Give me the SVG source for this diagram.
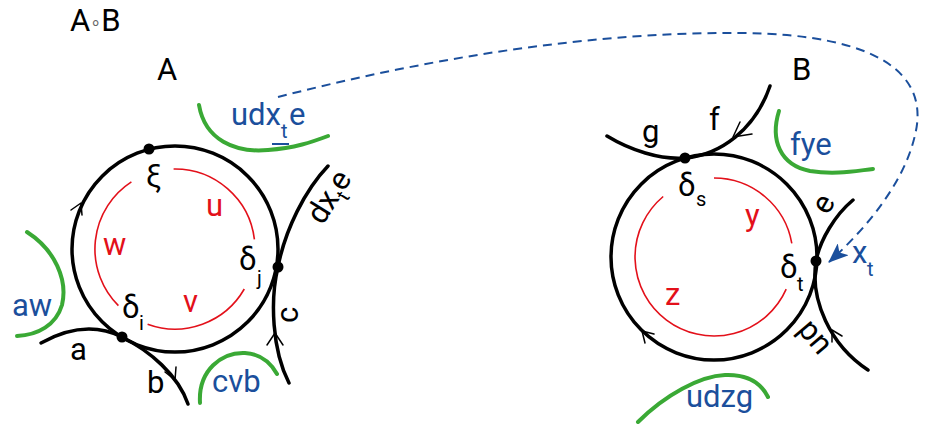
<svg xmlns="http://www.w3.org/2000/svg" width="932" height="424" viewBox="0 0 932 424">
<defs>
<style>
text{font-family:Roboto,"Open Sans","Liberation Sans",sans-serif;font-size:31px;}
.k{fill:#000;}
.r{fill:#e3101a;}
.bl{fill:#1b4f9c;}
.sub{font-size:20px;}
.ring{fill:none;stroke:#000;stroke-width:3.5;}
.cur{fill:none;stroke:#000;stroke-width:3.5;stroke-linecap:round;}
.red{fill:none;stroke:#e3101a;stroke-width:1.6;}
.grn{fill:none;stroke:#3aa935;stroke-width:4;stroke-linecap:round;}
.chev{fill:none;stroke:#000;stroke-width:1.5;stroke-linecap:round;stroke-linejoin:round;}
.dot{fill:#000;}
.dash{fill:none;stroke:#1b4f9c;stroke-width:2;stroke-dasharray:9 6;}
</style>
<marker id="ah" viewBox="0 0 20 16" refX="19" refY="8" markerWidth="20" markerHeight="16" markerUnits="userSpaceOnUse" orient="auto">
<path d="M0,0 L20,8 L0,16 L5,8 z" fill="#1b4f9c"/>
</marker>
</defs>

<text x="70" y="31" class="k">A<tspan font-size="18" fill="#666" dy="-3">∘</tspan><tspan dy="3">B</tspan></text>

<g id="nodeA">
<text x="157" y="80" class="k">A</text>
<circle class="ring" cx="175" cy="249" r="103"/>
<path class="chev" d="M71,210 L81,203 L82,215"/>
<path class="red" d="M173.6,169 A80,80 0 0 1 254.4,239.3"/>
<path class="red" d="M131.4,181.9 A80,80 0 0 0 118.4,305.6"/>
<path class="red" d="M147.6,324.2 A80,80 0 0 0 244.3,289"/>
<text x="206" y="216" class="r">u</text>
<text x="103" y="255" class="r">w</text>
<text x="183" y="312" class="r">v</text>
<circle class="dot" cx="149" cy="149" r="5.5"/>
<circle class="dot" cx="122" cy="337" r="5.5"/>
<circle class="dot" cx="278" cy="267" r="5.5"/>
<text x="146" y="186" class="k">ξ</text>
<text x="122" y="318" class="k">δ<tspan class="sub" x="139" y="330">i</tspan></text>
<text x="239" y="270" class="k">δ<tspan class="sub" x="257" y="285">j</tspan></text>
</g>

<g id="edgesA">
<path class="cur" d="M41,343 C68,328 96,324 122,337 C150,351 178,375 188,404"/>
<path class="chev" d="M176,367 L175,380 L165,372"/>
<text x="70" y="360" class="k">a</text>
<text x="147" y="393" class="k">b</text>
<path class="cur" d="M289,383 C272,350 270,300 278,267 C285,230 305,190 328,166"/>
<path class="chev" d="M267,345 L275,333 L283,345"/>
<text transform="translate(298,315) rotate(-90)" x="0" y="0" text-anchor="middle" class="k">c</text>
<text transform="translate(322.8,226) rotate(-58)" x="0" y="0" class="k">dx<tspan class="sub" dy="8">t</tspan><tspan dy="-8">e</tspan></text>
</g>

<g id="labelsA">
<path class="grn" d="M199,105 C205,140 235,153 268,150 C295,148 312,142 328,136"/>
<text x="231" y="125" class="bl">udx</text>
<text x="281" y="138" class="bl sub">t</text>
<line x1="272" y1="144" x2="289" y2="144" stroke="#1b4f9c" stroke-width="2"/>
<text x="289" y="125" class="bl">e</text>
<path class="grn" d="M27,232 C55,250 68,280 62,305 C56,325 38,335 17,336"/>
<text x="12" y="316" class="bl">aw</text>
<path class="grn" d="M200,403 C198,370 222,352 245,353 C262,354 272,365 277,374"/>
<text x="212" y="392" class="bl">cvb</text>
</g>

<g id="nodeB">
<text x="792" y="80" class="k">B</text>
<circle class="ring" cx="714" cy="257" r="103"/>
<path class="chev" d="M645,343 L642,331 L654,334"/>
<path class="red" d="M714,178 A79,79 0 0 1 791.8,243.3"/>
<path class="red" d="M663.2,196.5 A79,79 0 1 0 786.2,289.1"/>
<text x="745" y="226" class="r">y</text>
<text x="665" y="305" class="r">z</text>
<circle class="dot" cx="685" cy="158" r="5.5"/>
<circle class="dot" cx="816" cy="261" r="5.5"/>
<text x="678" y="196" class="k">δ<tspan class="sub" x="696" y="206">s</tspan></text>
<text x="780" y="278" class="k">δ<tspan class="sub" x="797" y="291">t</tspan></text>
</g>

<g id="edgesB">
<path class="cur" d="M607,136 C630,150 660,160 685,158 C720,155 755,130 770,86"/>
<path class="chev" d="M740,122 L733,137 L752,134"/>
<text x="642" y="142" class="k">g</text>
<text x="709" y="130" class="k">f</text>
<path class="cur" d="M853,200 C835,215 820,240 816,261 C810,300 830,345 868,370"/>
<path class="chev" d="M832,342 L832,330 L842,336"/>
<text transform="translate(825,205) rotate(-60)" x="0" y="8" text-anchor="middle" class="k">e</text>
<text transform="translate(814,338) rotate(50)" x="0" y="8" text-anchor="middle" class="k">pn</text>
</g>

<g id="labelsB">
<path class="grn" d="M779,111 C770,140 780,165 810,171 C835,175 855,171 873,169"/>
<text x="790" y="155" class="bl">fye</text>
<path class="grn" d="M638,422 C665,395 700,376 725,375 C750,374 762,385 768,397"/>
<text x="686" y="407" class="bl">udzg</text>
<text x="852" y="263" class="bl">x</text>
<text x="867" y="276" class="bl sub">t</text>
</g>

<g id="connectors">
<path class="dash" d="M278,97 C430,58 590,32 740,33 C880,34 930,75 915,135 C905,180 870,225 829,262" marker-end="url(#ah)"/>
</g>
</svg>
